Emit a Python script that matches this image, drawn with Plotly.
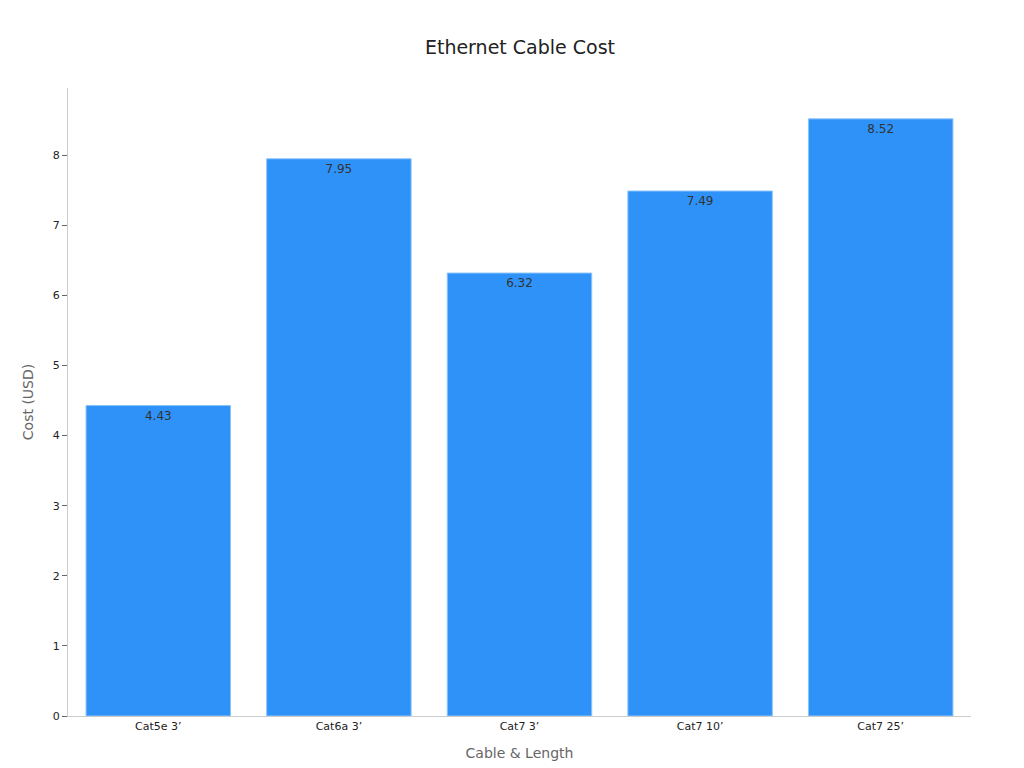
import plotly.graph_objects as pgo

CABLES = ["Cat5e 3\u2019", "Cat6a 3\u2019", "Cat7 3\u2019", "Cat7 10\u2019", "Cat7 25\u2019"]
COSTS = [4.43, 7.95, 6.32, 7.49, 8.52]


def main():
    fig = pgo.Figure()
    fig.add_trace(pgo.Bar(
        x=CABLES,
        y=COSTS,
        text=[f"{c:.2f}" for c in COSTS],
        textposition="inside",
        insidetextanchor="end",
        textfont=dict(color="#333333", size=12),
        marker=dict(color="#2E92F8", line=dict(color="#8CC4FA", width=1)),
    ))
    fig.update_layout(
        width=1024, height=768,
        font=dict(family="DejaVu Sans", color="#333333"),
        title=dict(text="Ethernet Cable Cost", x=0.5, xanchor="center", y=0.957,
                   font=dict(size=19, color="#222222")),
        plot_bgcolor="white", paper_bgcolor="white",
        margin=dict(l=60, r=61, t=80, b=60),
        bargap=0.2,
        showlegend=False,
        xaxis=dict(title=dict(text="Cable & Length", font=dict(size=14, color="#666666")),
                   showline=True, linecolor="#cccccc", tickfont=dict(size=11, color="#222222")),
        yaxis=dict(title=dict(text="Cost (USD)", font=dict(size=14, color="#666666")),
                   range=[0, 8.96], dtick=1, showgrid=False, zeroline=False,
                   showline=True, linecolor="#cccccc", ticks="outside", ticklen=5,
                   tickcolor="#666666", tickfont=dict(size=11, color="#222222")),
    )
    fig.write_html("out.html")


if __name__ == "__main__":
    main()
